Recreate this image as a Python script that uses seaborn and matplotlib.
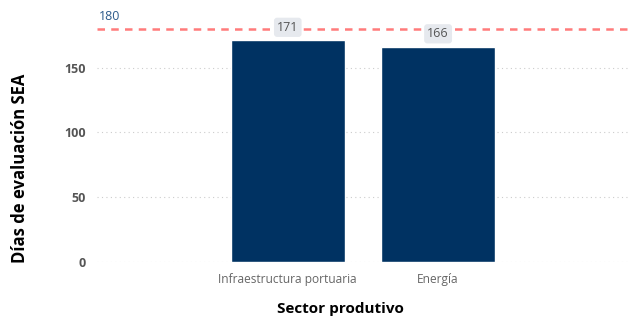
import pandas as pd
import seaborn as sns
import matplotlib.pyplot as plt

# Data
sectors = ['Infraestructura portuaria', 'Energía']
days = [171, 166]
limit_days = 180

data = pd.DataFrame({'Sector': sectors, 'Dias': days})

sns.set_theme(style='white')
plt.rcParams['font.family'] = ['Open Sans', 'DejaVu Sans']

fig = plt.figure(figsize=(6.29, 3.16), dpi=100)
ax = fig.add_axes([0.154, 0.171, 0.846, 0.80])

sns.barplot(data=data, x='Sector', y='Dias', color='#003262', width=0.76,
            saturation=1, ax=ax)

# Bar value labels in light rounded boxes
for i, v in enumerate(days):
    ax.text(i, v + 10, str(v), ha='center', va='center', fontsize=9, color='#555555',
            bbox=dict(boxstyle='round,pad=0.25', fc='#e6e9ee', ec='none'), zorder=5)

# Reference line
ax.axhline(limit_days, color='#ff7b7b', linestyle=(0, (3, 2.5)), linewidth=1.8, zorder=4)
ax.text(-1.255, limit_days + 4, str(limit_days), color='#2c5a8a', fontsize=9,
        ha='left', va='bottom')

ax.set_xlim(-1.27, 2.27)
ax.set_ylim(0, 195)
ax.set_yticks([0, 50, 100, 150])
ax.yaxis.grid(True, linestyle=(0, (1, 3)), color='#cccccc', linewidth=0.8)
ax.set_axisbelow(True)
sns.despine(ax=ax, left=True, bottom=True)
ax.tick_params(axis='both', length=0, pad=8)

for lbl in ax.get_yticklabels():
    lbl.set_fontweight('bold')
    lbl.set_color('#555555')
    lbl.set_fontsize(9)
for lbl in ax.get_xticklabels():
    lbl.set_color('#666666')
    lbl.set_fontsize(8.6)

ax.set_xlabel('Sector produtivo', fontsize=11, fontweight='bold', color='black')
ax.set_ylabel('Días de evaluación SEA', fontsize=12, fontweight='bold', color='black')
ax.xaxis.set_label_coords(0.457, -0.158)
ax.yaxis.set_label_coords(-0.145, 0.37)
ax.yaxis.label.set_va('center')

fig.savefig('out.png', dpi=100)
